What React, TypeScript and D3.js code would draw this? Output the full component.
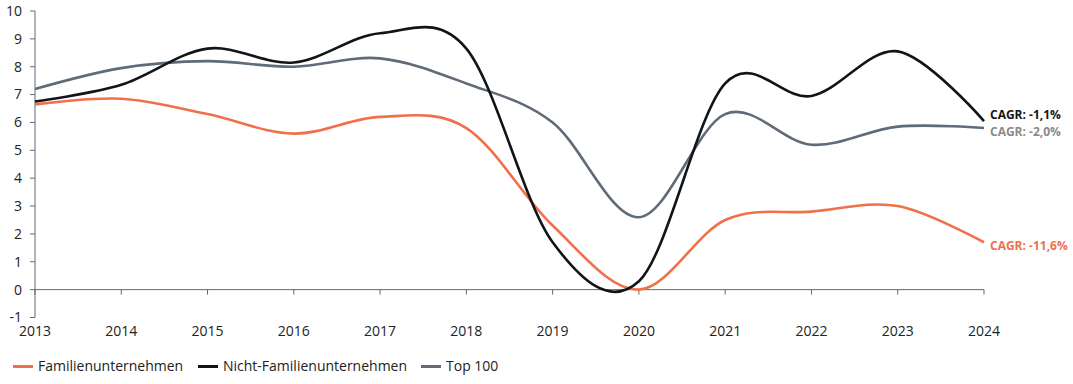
import React from 'react'
import * as d3 from 'd3'

const years = [2013, 2014, 2015, 2016, 2017, 2018, 2019, 2020, 2021, 2022, 2023, 2024]
const familien = [6.65, 6.85, 6.3, 5.6, 6.2, 5.8, 2.3, 0.0, 2.5, 2.8, 3.0, 1.7]
const nichtFamilien = [6.75, 7.35, 8.65, 8.15, 9.2, 8.65, 1.7, 0.3, 7.4, 6.95, 8.55, 6.05]
const top100 = [7.2, 7.95, 8.2, 8.0, 8.3, 7.4, 6.0, 2.6, 6.3, 5.2, 5.85, 5.8]
const yTicks = [-1, 0, 1, 2, 3, 4, 5, 6, 7, 8, 9, 10]

const series = [
  { name: 'Familienunternehmen', values: familien, color: '#f0704a', cagr: 'CAGR: -11,6%', labelColor: '#f0704a' },
  { name: 'Nicht-Familienunternehmen', values: nichtFamilien, color: '#111418', cagr: 'CAGR: -1,1%', labelColor: '#111418' },
  { name: 'Top 100', values: top100, color: '#5f6b78', cagr: 'CAGR: -2,0%', labelColor: '#8a8a8a' },
]

const W = 1073
const H = 384
const axisColor = '#5f6b78'
const font = '"Open Sans", "Noto Sans", sans-serif'

function App() {
  const x = d3.scaleLinear().domain([2013, 2024]).range([35, 984])
  const y = d3.scaleLinear().domain([-1, 10]).range([317.5, 11])

  const line = d3.line<number>()
    .x((_, i) => x(years[i]))
    .y(d => y(d))
    .curve(d3.curveCardinal.tension(0))

  // label offsets so the two upper labels don't collide
  const labelY: Record<string, number> = {
    'Nicht-Familienunternehmen': -6,
    'Top 100': 4,
    'Familienunternehmen': 4,
  }

  const legendX = [13, 198, 421]

  return (
    <svg width={W} height={H} style={{ position: 'absolute', left: 0, top: 0 }} fontFamily={font}>
      <rect width={W} height={H} fill="#fff" />
      {/* y axis */}
      <line x1={35} x2={35} y1={y(10)} y2={y(-1)} stroke={axisColor} strokeWidth={1} />
      {yTicks.map(t => (
        <g key={t}>
          <line x1={30} x2={35} y1={y(t)} y2={y(t)} stroke={axisColor} strokeWidth={1} />
          <text x={22} y={y(t)} dy="0.35em" textAnchor="end" fontSize={14} fill="#222">{t}</text>
        </g>
      ))}
      {/* x axis at zero */}
      <line x1={x(2013)} x2={x(2024)} y1={y(0)} y2={y(0)} stroke={axisColor} strokeWidth={1} />
      {years.map(yr => (
        <g key={yr}>
          <line x1={x(yr)} x2={x(yr)} y1={y(0)} y2={y(0) + 5} stroke={axisColor} strokeWidth={1} />
          <text x={x(yr)} y={336} textAnchor="middle" fontSize={14} fill="#222">{yr}</text>
        </g>
      ))}
      {/* lines */}
      {[series[2], series[0], series[1]].map(s => (
        <path key={s.name} d={line(s.values) || ''} fill="none" stroke={s.color} strokeWidth={2.6} />
      ))}
      {/* CAGR labels */}
      {series.map(s => (
        <text key={s.name} x={990} y={y(s.values[s.values.length - 1]) + labelY[s.name]} dy="0.35em"
          fontSize={12} fontWeight={700} fill={s.labelColor}>{s.cagr}</text>
      ))}
      {/* legend */}
      {series.map((s, i) => (
        <g key={s.name} transform={`translate(${legendX[i]},366.5)`}>
          <line x1={0} x2={20} y1={0} y2={0} stroke={s.color} strokeWidth={3} />
          <text x={25} y={0} dy="0.35em" fontSize={14} fill="#222">{s.name}</text>
        </g>
      ))}
    </svg>
  )
}

export default App
